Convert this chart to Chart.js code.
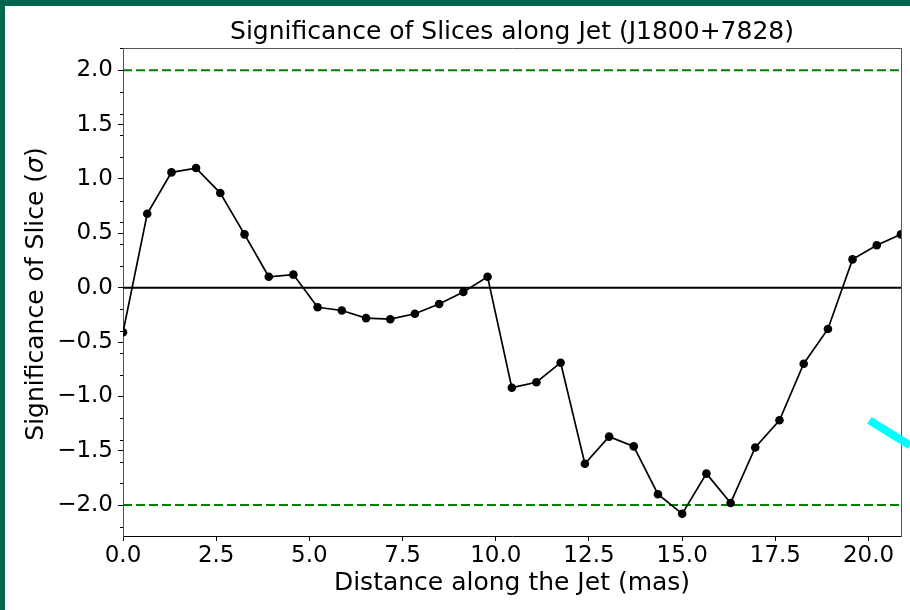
<!DOCTYPE html>
<html>
<head>
<meta charset="utf-8">
<script src="https://cdn.jsdelivr.net/npm/chart.js@4.4.1/dist/chart.umd.min.js"></script>
<style>
  html, body { margin: 0; padding: 0; background: #fff; }
  #wrap { width: 910px; height: 610px; position: relative; }
</style>
</head>
<body>
<div id="wrap"><canvas id="jetChart"></canvas></div>
<script>
// distance of each slice along the jet (mas)
var distance = [0.00, 0.65, 1.30, 1.96, 2.61, 3.26, 3.91, 4.57, 5.22, 5.87, 6.52,
                7.17, 7.83, 8.48, 9.13, 9.78, 10.43, 11.09, 11.74, 12.39, 13.04, 13.70,
                14.35, 15.00, 15.65, 16.30, 16.96, 17.61, 18.26, 18.91, 19.57, 20.22, 20.87];
// significance of each slice (sigma)
var significance = [-0.41, 0.68, 1.06, 1.10, 0.87, 0.49, 0.10, 0.12, -0.18, -0.21, -0.28,
                    -0.29, -0.24, -0.15, -0.04, 0.10, -0.92, -0.87, -0.69, -1.62, -1.37, -1.46,
                    -1.90, -2.08, -1.71, -1.98, -1.47, -1.22, -0.70, -0.38, 0.26, 0.39, 0.49];

var sigmaLevel = 2.0;
var xRange = [0, 20.87];
var yRange = [-2.284, 2.204];
var xTicks = [0, 2.5, 5, 7.5, 10, 12.5, 15, 17.5, 20];
var yTicks = [-2.0, -1.5, -1.0, -0.5, 0.0, 0.5, 1.0, 1.5, 2.0];
var yMinorTicks = [-2.2, -1.8, -1.6, -1.4, -1.2, -0.8, -0.6, -0.4, -0.2,
                   0.2, 0.4, 0.6, 0.8, 1.2, 1.4, 1.6, 1.8, 2.2];

// stray cyan stroke near the right edge
var streakX = [20.02, 21.11];
var streakY = [-1.22, -1.45];

var FONT = "'DejaVu Sans', sans-serif";
Chart.defaults.font.family = FONT;
Chart.defaults.color = '#000';

function fmt(v) {
  return v.toFixed(1).replace('-', '\u2212');
}

function pts(xs, ys) {
  return xs.map(function (x, i) { return {x: x, y: ys[i]}; });
}

var frame = {
  id: 'frame',
  beforeDraw: function (chart) {
    var c = chart.ctx;
    c.save();
    c.fillStyle = '#fff';
    c.fillRect(0, 0, chart.width, chart.height);
    c.fillStyle = '#006650';
    c.fillRect(0, 0, chart.width, 6);
    c.fillRect(0, 0, 5, chart.height);
    c.restore();
  },
  afterDraw: function (chart) {
    var c = chart.ctx, y = chart.scales.y, area = chart.chartArea;
    c.save();
    // minor ticks on the left axis
    c.strokeStyle = '#000';
    c.lineWidth = 1;
    yMinorTicks.forEach(function (v) {
      var py = Math.round(y.getPixelForValue(v)) + 0.5;
      c.beginPath();
      c.moveTo(area.left - 3, py);
      c.lineTo(area.left, py);
      c.stroke();
    });
    // y axis label, sigma in italics
    var parts = [
      ['Significance of Slice (', '25px ' + FONT],
      ['\u03c3', 'italic 25px ' + FONT],
      [')', '25px ' + FONT]
    ];
    var total = 0;
    parts.forEach(function (p) { c.font = p[1]; total += c.measureText(p[0]).width; });
    c.translate(36, (area.top + area.bottom) / 2 + 2);
    c.rotate(-Math.PI / 2);
    c.fillStyle = '#000';
    c.textBaseline = 'middle';
    c.textAlign = 'left';
    var px = -total / 2;
    parts.forEach(function (p) {
      c.font = p[1];
      c.fillText(p[0], px, 0);
      px += c.measureText(p[0]).width;
    });
    c.restore();
  }
};

new Chart(document.getElementById('jetChart'), {
  type: 'line',
  data: {
    datasets: [
      {
        data: pts(streakX, streakY),
        borderColor: '#00ffff',
        borderWidth: 8,
        borderCapStyle: 'butt',
        pointRadius: 0,
        clip: false
      },
      {
        data: pts(distance, significance),
        borderColor: '#000',
        borderWidth: 1.7,
        pointRadius: 4.3,
        pointBackgroundColor: '#000',
        pointBorderWidth: 0,
        tension: 0,
        clip: 0
      },
      {
        data: pts(xRange, [0, 0]),
        borderColor: '#000',
        borderWidth: 2,
        pointRadius: 0
      },
      {
        data: pts(xRange, [sigmaLevel, sigmaLevel]),
        borderColor: '#008000',
        borderWidth: 2,
        borderDash: [9, 4],
        pointRadius: 0
      },
      {
        data: pts(xRange, [-sigmaLevel, -sigmaLevel]),
        borderColor: '#008000',
        borderWidth: 2,
        borderDash: [9, 4],
        pointRadius: 0
      }
    ]
  },
  options: {
    responsive: true,
    maintainAspectRatio: false,
    animation: false,
    layout: { padding: 0 },
    plugins: { legend: { display: false }, tooltip: { enabled: false } },
    scales: {
      x: {
        type: 'linear',
        position: 'bottom',
        min: xRange[0],
        max: xRange[1],
        afterBuildTicks: function (s) { s.ticks = xTicks.map(function (v) { return {value: v}; }); },
        afterFit: function (s) { s.height = 74; },
        ticks: { font: { size: 23 }, padding: 1, maxRotation: 0, autoSkip: false,
                 callback: function (v) { return fmt(v); } },
        grid: { drawOnChartArea: false, color: '#000', tickLength: 5 },
        border: { color: '#000', width: 1 },
        title: { display: true, text: 'Distance along the Jet (mas)', font: { size: 25 },
                 padding: { top: 0, bottom: 12 } }
      },
      xTop: {
        type: 'linear',
        position: 'top',
        min: xRange[0],
        max: xRange[1],
        afterFit: function (s) { s.height = 48; },
        ticks: { display: false },
        grid: { display: false },
        border: { color: '#555', width: 1 },
        title: { display: true, text: 'Significance of Slices along Jet (J1800+7828)',
                 font: { size: 25 }, padding: { top: 17, bottom: 0 } }
      },
      y: {
        type: 'linear',
        position: 'left',
        min: yRange[0],
        max: yRange[1],
        afterBuildTicks: function (s) { s.ticks = yTicks.map(function (v) { return {value: v}; }); },
        afterFit: function (s) { s.width = 123; },
        ticks: { font: { size: 23 }, padding: 5, autoSkip: false,
                 callback: function (v) { return fmt(v); } },
        grid: { drawOnChartArea: false, color: '#000', tickLength: 5 },
        border: { color: '#555', width: 1 }
      },
      yRight: {
        type: 'linear',
        position: 'right',
        min: yRange[0],
        max: yRange[1],
        afterFit: function (s) { s.width = 9; },
        ticks: { display: false },
        grid: { display: false },
        border: { color: '#555', width: 1 }
      }
    }
  },
  plugins: [frame]
});
</script>
</body>
</html>
